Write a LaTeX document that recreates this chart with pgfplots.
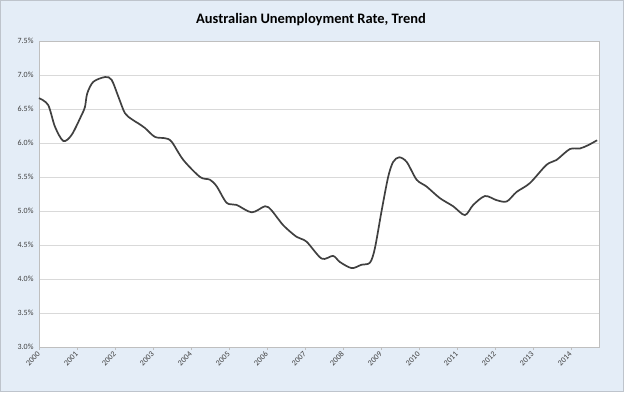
\documentclass[border=0pt]{standalone}
\usepackage{pgfplots}
\pgfplotsset{compat=1.18}
\usepackage{fontspec}
\setmainfont{Carlito}
\definecolor{bgblue}{RGB}{228,237,247}
\definecolor{framegray}{RGB}{190,196,204}
\definecolor{gridgray}{RGB}{217,217,217}
\definecolor{axgray}{RGB}{191,191,191}
\definecolor{linegray}{RGB}{64,64,64}
\definecolor{labgray}{RGB}{64,64,64}
\begin{document}
\begin{tikzpicture}[x=1bp,y=1bp]
\fill[bgblue] (0,0) rectangle (624,392);
\draw[framegray, line width=1bp] (0.5,0.5) rectangle (623.5,391.5);
\node[font=\fontsize{14.5}{17}\selectfont\bfseries] at (311,372) {Australian Unemployment Rate, Trend};
\begin{axis}[
  at={(39bp,45bp)}, anchor=south west,
  scale only axis, width=560bp, height=306bp,
  xmin=2000, xmax=2014.74,
  ymin=3, ymax=7.5,
  axis background/.style={fill=white},
  axis line style={axgray},
  xtick={2000,2001,...,2014},
  ytick={3,3.5,...,7.5},
  yticklabel={\pgfmathprintnumber[fixed,fixed zerofill,precision=1]{\tick}\%},
  xticklabel={\pgfmathprintnumber[1000 sep={}]{\tick}},
  /pgf/number format/assume math mode=true,
  ymajorgrids, grid style={gridgray, line width=0.8bp},
  tick label style={font=\fontsize{8}{9}\selectfont, text=labgray},
  x tick label style={rotate=45, anchor=east, xshift=1bp, yshift=-2bp},
  y tick label style={xshift=-2bp},
  major tick length=3bp,
  xtick pos=bottom, xtick align=outside,
  ytick style={draw=none},
  xtick style={axgray},
  clip=false,
]
\addplot[linegray, line width=1.7bp, smooth, tension=0.5] coordinates {
(2000.00,6.66) (2000.24,6.56) (2000.42,6.24) (2000.64,6.03) (2000.86,6.12)
(2001.12,6.41) (2001.21,6.53) (2001.27,6.73) (2001.43,6.90) (2001.74,6.97)
(2001.91,6.93) (2002.09,6.68) (2002.26,6.44) (2002.44,6.35) (2002.61,6.29)
(2002.79,6.22) (2003.05,6.09) (2003.32,6.07) (2003.49,6.02) (2003.80,5.75)
(2004.24,5.50) (2004.50,5.46) (2004.68,5.36) (2004.94,5.12) (2005.20,5.09)
(2005.60,4.98) (2005.95,5.07) (2006.12,5.01) (2006.43,4.79) (2006.78,4.62)
(2007.04,4.55) (2007.44,4.30) (2007.74,4.34) (2007.92,4.25) (2008.23,4.16)
(2008.49,4.21) (2008.71,4.24) (2008.84,4.45) (2009.02,5.01) (2009.19,5.50)
(2009.32,5.72) (2009.48,5.79) (2009.68,5.72) (2009.94,5.46) (2010.20,5.36)
(2010.55,5.19) (2010.90,5.07) (2011.21,4.94) (2011.43,5.09) (2011.74,5.22)
(2012.04,5.16) (2012.31,5.14) (2012.57,5.28) (2012.92,5.41) (2013.36,5.68)
(2013.62,5.75) (2013.97,5.91) (2014.24,5.92) (2014.46,5.97) (2014.69,6.04)
};
\end{axis}
\end{tikzpicture}
\end{document}
